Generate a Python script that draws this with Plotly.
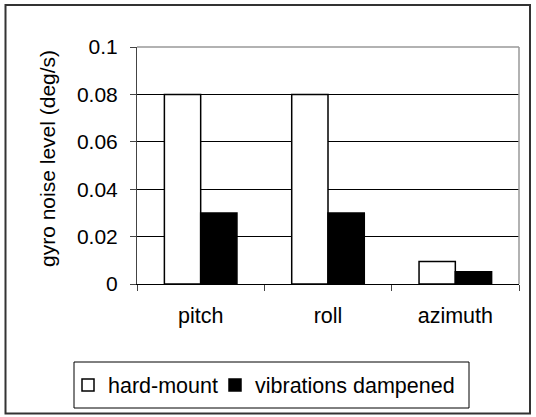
import plotly.graph_objects as go

categories = ["pitch", "roll", "azimuth"]
hard_mount = [0.08, 0.08, 0.0095]
dampened = [0.03, 0.03, 0.0052]
y_ticks = [0, 0.02, 0.04, 0.06, 0.08, 0.1]
y_ticktext = ["0", "0.02", "0.04", "0.06", "0.08", "0.1"]

W, H = 536, 417
L, R, T, B = 137, 17, 47, 133
pw, ph = W - L - R, H - T - B


def px(x):
    return (x - L) / pw


def py(y):
    return (H - B - y) / ph


FONT = "Liberation Sans, Arial, sans-serif"

fig = go.Figure()
fig.add_trace(go.Bar(
    x=categories, y=hard_mount, name="hard-mount", legend="legend",
    marker=dict(color="white", line=dict(color="black", width=1.5)),
))
fig.add_trace(go.Bar(
    x=categories, y=dampened, name="vibrations dampened", legend="legend2",
    marker=dict(color="black", line=dict(color="black", width=1.5)),
))

leg_common = dict(
    orientation="h", yanchor="middle", xanchor="left",
    bgcolor="rgba(0,0,0,0)", borderwidth=0,
    font=dict(family=FONT, size=21.5, color="black"),
    itemclick=False, itemdoubleclick=False,
)

fig.update_layout(
    width=W, height=H,
    margin=dict(l=L, r=R, t=T, b=B),
    paper_bgcolor="white", plot_bgcolor="white",
    barmode="group", bargap=0.43, bargroupgap=0,
    font=dict(family=FONT, size=21, color="black"),
    showlegend=True,
    hovermode=False,
    legend=dict(x=px(68), y=py(385), **leg_common),
    legend2=dict(x=px(215), y=py(385), **leg_common),
    xaxis=dict(
        showgrid=False, showline=True, linecolor="black", linewidth=1,
        ticks="outside", ticklen=6, tickcolor="#444", tickson="boundaries",
        zeroline=False, ticklabelstandoff=12,
        tickfont=dict(family=FONT, size=21.5),
    ),
    yaxis=dict(
        range=[0, 0.1], tickmode="array", tickvals=y_ticks, ticktext=y_ticktext,
        showgrid=True, gridcolor="black", gridwidth=1,
        showline=True, linecolor="#444", linewidth=1,
        ticks="outside", ticklen=6, tickcolor="#444",
        zeroline=False, ticklabelstandoff=8,
    ),
    annotations=[
        dict(text="gyro noise level (deg/s)", textangle=-90, showarrow=False,
             xref="paper", yref="paper", x=px(47.5), y=py(158.5),
             xanchor="center", yanchor="middle",
             font=dict(family=FONT, size=21, color="black")),
    ],
    shapes=[
        dict(type="line", xref="paper", yref="paper", x0=0, x1=1, y0=1, y1=1,
             line=dict(color="#999", width=1.5)),
        dict(type="line", xref="paper", yref="paper", x0=1, x1=1, y0=0, y1=1,
             line=dict(color="#999", width=1.5)),
        dict(type="rect", xref="paper", yref="paper",
             x0=px(74), x1=px(469), y0=py(408), y1=py(362),
             line=dict(color="black", width=1)),
        dict(type="rect", xref="paper", yref="paper",
             x0=px(5.5), x1=px(530), y0=py(413.5), y1=py(5),
             line=dict(color="#333", width=2)),
    ],
)

fig.write_html("out.html", config={"displayModeBar": False, "staticPlot": True},
               post_script="document.body.style.margin='0';")
